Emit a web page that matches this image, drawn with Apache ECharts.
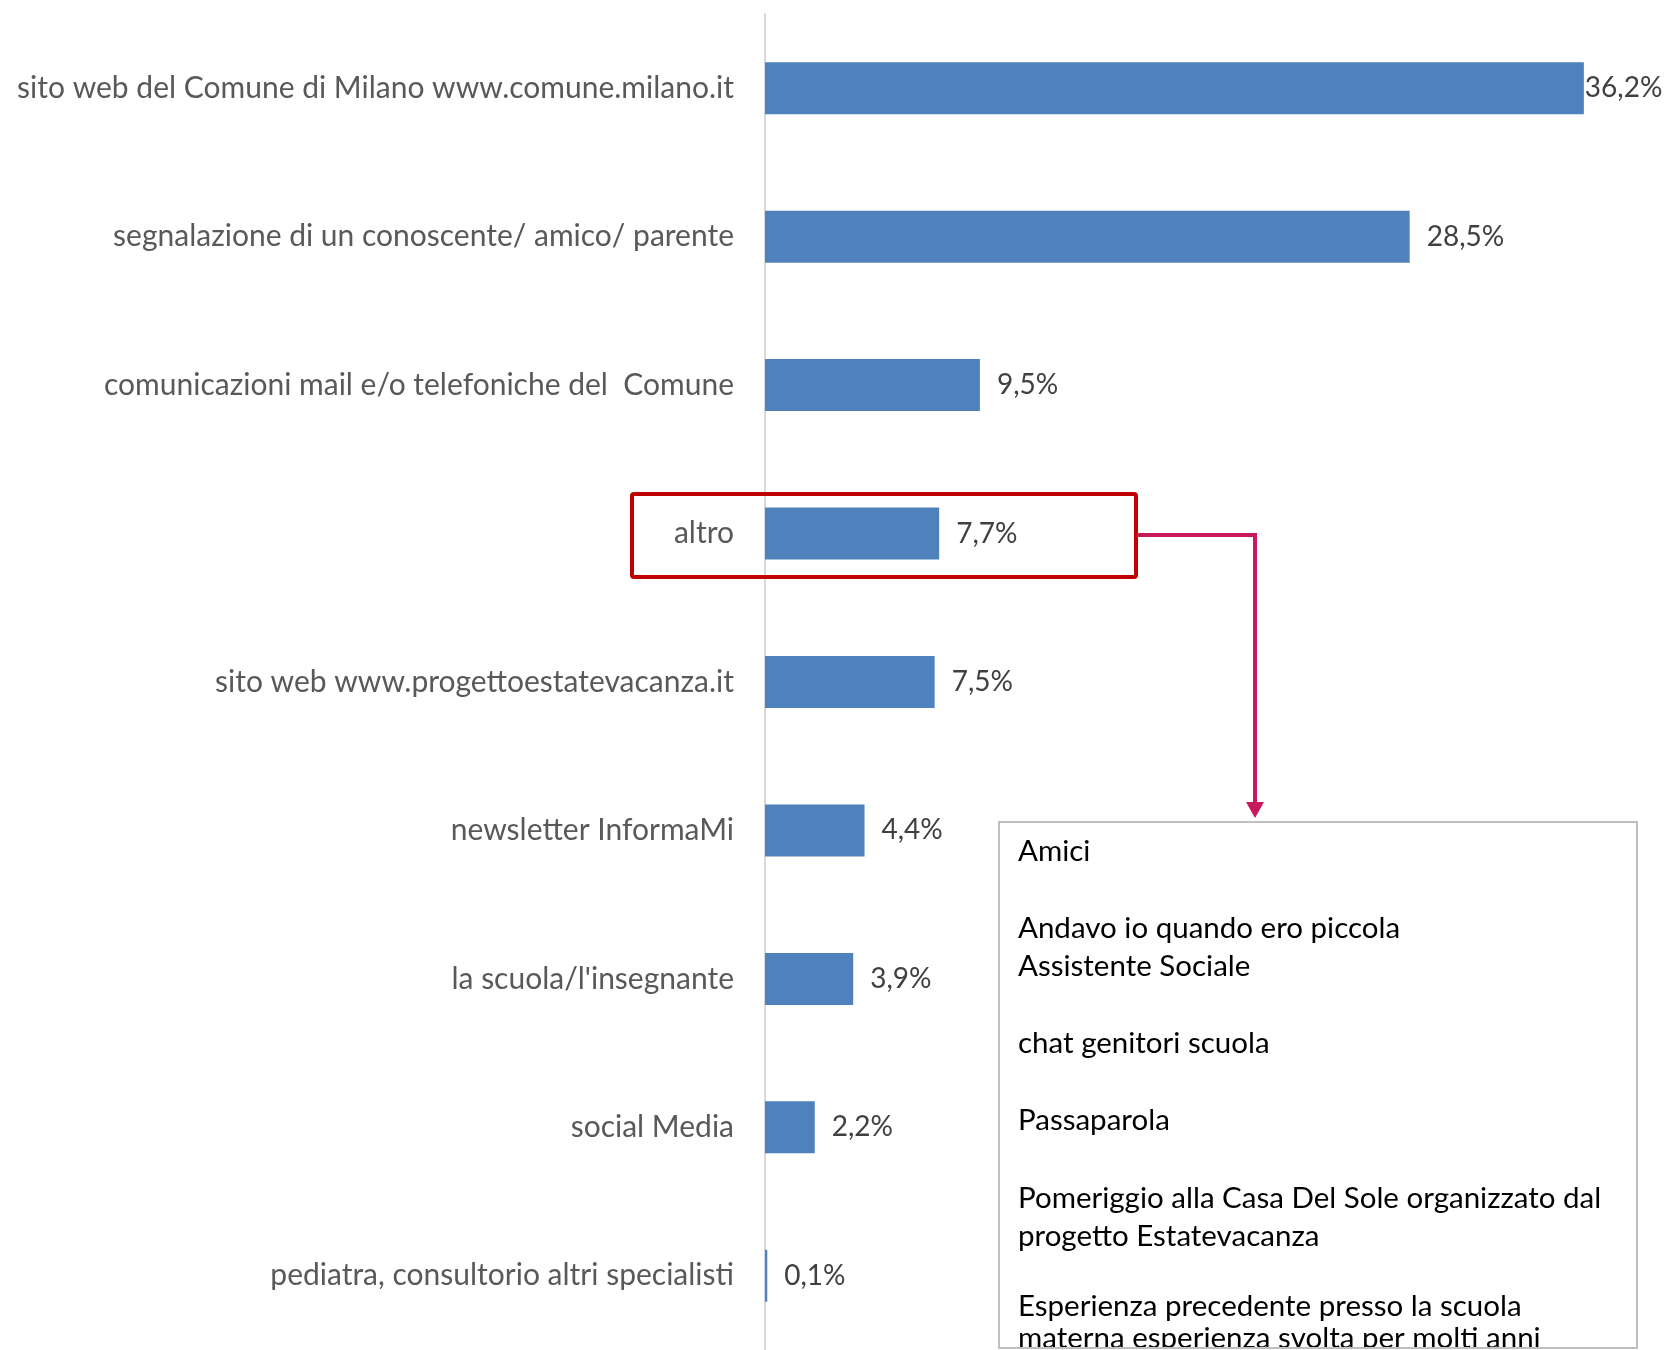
<!DOCTYPE html>
<html>
<head>
<meta charset="utf-8">
<title>Canali di conoscenza</title>
<script src="https://cdn.jsdelivr.net/npm/echarts@6/dist/echarts.min.js"></script>
<style>
  html, body { margin: 0; padding: 0; background: #ffffff; }
  #chart { width: 1672px; height: 1350px; }
</style>
</head>
<body>
<div id="chart"></div>
<script>
// Categories, top to bottom
const categories = [
  'sito web del Comune di Milano www.comune.milano.it',
  'segnalazione di un conoscente/ amico/ parente',
  'comunicazioni mail e/o telefoniche del  Comune',
  'altro',
  'sito web www.progettoestatevacanza.it',
  'newsletter InformaMi',
  "la scuola/l'insegnante",
  'social Media',
  'pediatra, consultorio altri specialisti'
];

// Share of respondents (%)
const values = [36.2, 28.5, 9.5, 7.7, 7.5, 4.4, 3.9, 2.2, 0.1];

// Free-text answers given under "altro"
const altroAnswers = [
  'Amici',
  'Andavo io quando ero piccola',
  'Assistente Sociale',
  'chat genitori scuola',
  'Passaparola',
  'Pomeriggio alla Casa Del Sole organizzato dal',
  'progetto Estatevacanza',
  'Esperienza precedente presso la scuola',
  'materna esperienza svolta per molti anni'
];

const fmt = v => v.toFixed(1).replace('.', ',') + '%';

const chart = echarts.init(document.getElementById('chart'), null, { renderer: 'canvas' });

// Vertical position (centre) of each answer line inside the box
const answerY = [851, 928, 966, 1043, 1120, 1198, 1236, 1306, 1338];

const answerTexts = altroAnswers.map((t, i) => ({
  type: 'text',
  left: 1018,
  top: answerY[i] - 15,
  z: 20,
  style: {
    text: t,
    font: '29.5px Lato',
    fill: '#000000',
    textVerticalAlign: 'top'
  }
}));

chart.setOption({
  animation: false,
  backgroundColor: '#ffffff',
  grid: { left: 765, top: 14, width: 904.8, height: 1336, containLabel: false },
  xAxis: {
    type: 'value',
    min: 0,
    max: 40,
    show: false
  },
  yAxis: {
    type: 'category',
    data: categories,
    inverse: true,
    axisLine: { show: true, lineStyle: { color: '#d9d9d9', width: 2 } },
    axisTick: { show: false },
    axisLabel: {
      margin: 31,
      fontFamily: 'Lato',
      fontSize: 30,
      color: '#595959',
      padding: [4, 0, 0, 0]
    }
  },
  series: [{
    type: 'bar',
    barWidth: 52,
    itemStyle: { color: '#4F81BD' },
    data: values.map((v, i) => i === 0
      ? { value: v, label: { distance: 1 } }
      : v),
    label: {
      show: true,
      position: 'right',
      distance: 17,
      fontFamily: 'Lato',
      fontSize: 28,
      color: '#404040',
      padding: [4, 0, 0, 0],
      formatter: p => fmt(p.value)
    }
  }],
  graphic: [
    // highlight round the "altro" row
    {
      type: 'rect',
      z: 10,
      shape: { x: 632, y: 494, width: 504, height: 83, r: 2 },
      style: { fill: 'none', stroke: '#C00000', lineWidth: 4 }
    },
    // connector to the answers box
    {
      type: 'polyline',
      z: 10,
      shape: { points: [[1137, 535], [1255, 535], [1255, 804]] },
      style: { stroke: '#C8195C', lineWidth: 4, fill: 'none' }
    },
    {
      type: 'polygon',
      z: 10,
      shape: { points: [[1246, 802], [1264, 802], [1255, 818]] },
      style: { fill: '#C8195C' }
    },
    // answers box
    {
      type: 'rect',
      z: 15,
      shape: { x: 999, y: 822, width: 638, height: 526 },
      style: { fill: '#ffffff', stroke: 'none' }
    },
    ...answerTexts,
    {
      type: 'rect',
      z: 25,
      shape: { x: 990, y: 1348, width: 660, height: 10 },
      style: { fill: '#ffffff', stroke: 'none' }
    },
    {
      type: 'rect',
      z: 30,
      shape: { x: 999, y: 822, width: 638, height: 526 },
      style: { fill: 'none', stroke: '#BFBFBF', lineWidth: 2 }
    }
  ]
});
</script>
</body>
</html>
